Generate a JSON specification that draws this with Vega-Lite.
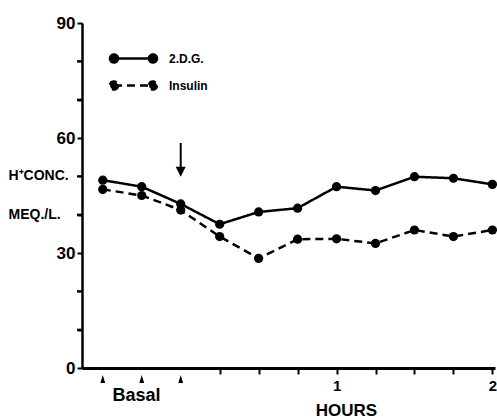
{
  "$schema": "https://vega.github.io/schema/vega-lite/v6.json",
  "width": 413,
  "height": 345,
  "autosize": {"type": "none"},
  "padding": {"left": 82, "top": 23, "right": 2, "bottom": 51},
  "background": "white",
  "config": {
    "view": {"stroke": null},
    "font": "Liberation Sans",
    "axis": {
      "grid": false,
      "domainColor": "black",
      "tickColor": "black",
      "labelColor": "black",
      "titleColor": "black",
      "labelFont": "Liberation Sans",
      "titleFont": "Liberation Sans",
      "labelFontWeight": "bold",
      "titleFontWeight": "bold"
    }
  },
  "datasets": {
    "conc": [
      {"minutes": -30, "series": "2.D.G.", "value": 49.0},
      {"minutes": -15, "series": "2.D.G.", "value": 47.3},
      {"minutes": 0, "series": "2.D.G.", "value": 42.8},
      {"minutes": 15, "series": "2.D.G.", "value": 37.5},
      {"minutes": 30, "series": "2.D.G.", "value": 40.7},
      {"minutes": 45, "series": "2.D.G.", "value": 41.7},
      {"minutes": 60, "series": "2.D.G.", "value": 47.3},
      {"minutes": 75, "series": "2.D.G.", "value": 46.3},
      {"minutes": 90, "series": "2.D.G.", "value": 49.9},
      {"minutes": 105, "series": "2.D.G.", "value": 49.5},
      {"minutes": 120, "series": "2.D.G.", "value": 47.9},
      {"minutes": -30, "series": "Insulin", "value": 46.6},
      {"minutes": -15, "series": "Insulin", "value": 45.0},
      {"minutes": 0, "series": "Insulin", "value": 41.2},
      {"minutes": 15, "series": "Insulin", "value": 34.3},
      {"minutes": 30, "series": "Insulin", "value": 28.6},
      {"minutes": 45, "series": "Insulin", "value": 33.6},
      {"minutes": 60, "series": "Insulin", "value": 33.7},
      {"minutes": 75, "series": "Insulin", "value": 32.5},
      {"minutes": 90, "series": "Insulin", "value": 36.0},
      {"minutes": 105, "series": "Insulin", "value": 34.3},
      {"minutes": 120, "series": "Insulin", "value": 36.0}
    ],
    "basal": [
      {"minutes": -30, "value": 0},
      {"minutes": -15, "value": 0},
      {"minutes": 0, "value": 0}
    ],
    "minorTicks": [
      {"minutes": -38, "value": 10},
      {"minutes": -38, "value": 20},
      {"minutes": -38, "value": 40},
      {"minutes": -38, "value": 50},
      {"minutes": -38, "value": 70},
      {"minutes": -38, "value": 80}
    ],
    "basalLabel": [{"minutes": -17, "value": 0, "label": "Basal"}],
    "injection": [{"minutes": 0, "value": 58.7, "value2": 52.0, "tip": 51.2}]
  },
  "layer": [
    {
      "data": {"name": "conc"},
      "mark": {"type": "line", "color": "black", "strokeWidth": 2.5},
      "encoding": {
        "x": {
          "field": "minutes",
          "type": "quantitative",
          "scale": {"domain": [-38, 121], "nice": false, "zero": false},
          "axis": {
            "values": [15, 30, 45, 60, 75, 90, 105, 120],
            "labelExpr": "datum.value == 60 ? '1' : datum.value == 120 ? '2' : ''",
            "labelFontSize": 15,
            "labelPadding": 4,
            "labelFlush": false,
            "labelOverlap": false,
            "tickSize": 6,
            "tickWidth": 2,
            "domainWidth": 3,
            "title": "HOURS",
            "titleFontSize": 17,
            "titleX": 264,
            "titleY": 47,
            "titleBaseline": "alphabetic",
            "titleAlign": "center",
            "titleAnchor": null
          }
        },
        "y": {
          "field": "value",
          "type": "quantitative",
          "scale": {"domain": [0, 90], "nice": false},
          "axis": {
            "tickCount": 9,
            "labelExpr": "datum.value % 30 === 0 ? format(datum.value, 'd') : ''",
            "labelOverlap": false,
            "labelBound": false,
            "labelFlush": false,
            "labelFontSize": 17,
            "labelPadding": 2,
            "tickSize": 5,
            "tickWidth": 2,
            "domainWidth": 2.5,
            "title": ["H⁺CONC.", "MEQ./L."],
            "titleFontSize": 14,
            "titleAngle": 0,
            "titleAlign": "left",
            "titleBaseline": "middle",
            "titleX": -74,
            "titleY": 152,
            "titleLineHeight": 39,
            "titleAnchor": null
          }
        },
        "strokeDash": {
          "field": "series",
          "type": "nominal",
          "scale": {"domain": ["2.D.G.", "Insulin"], "range": [[1, 0], [8, 5]]},
          "legend": {
            "title": null,
            "orient": "none",
            "legendX": 40,
            "legendY": 24,
            "padding": 0,
            "symbolType": "M-1.95,0L1.95,0M-1.55,0A0.4,0.4,0,1,1,-2.35,0A0.4,0.4,0,1,1,-1.55,0ZM2.35,0A0.4,0.4,0,1,1,1.55,0A0.4,0.4,0,1,1,2.35,0Z",
            "symbolSize": 400,
            "symbolFillColor": "black",
            "symbolStrokeColor": "black",
            "symbolStrokeWidth": 2.5,
            "labelFont": "Liberation Sans",
            "labelFontWeight": "bold",
            "labelFontSize": 12,
            "labelColor": "black",
            "labelOffset": 24,
            "rowPadding": 6,
            "encode": {"symbols": {"update": {"fill": {"value": "black"}, "stroke": {"value": "black"}, "opacity": {"value": 1}}}}
          }
        }
      }
    },
    {
      "data": {"name": "conc"},
      "mark": {"type": "point", "filled": true, "color": "black", "opacity": 1, "size": 85},
      "encoding": {
        "x": {"field": "minutes", "type": "quantitative"},
        "y": {"field": "value", "type": "quantitative"}
      }
    },
    {
      "data": {"name": "minorTicks"},
      "mark": {"type": "point", "shape": "M-1,0L0,0", "filled": false, "stroke": "black", "strokeWidth": 2, "opacity": 1, "size": 100},
      "encoding": {
        "x": {"field": "minutes", "type": "quantitative"},
        "y": {"field": "value", "type": "quantitative"}
      }
    },
    {
      "data": {"name": "basal"},
      "mark": {"type": "point", "shape": "M0,-1L0.6,1L-0.6,1Z", "filled": true, "color": "black", "opacity": 1, "size": 64, "yOffset": 11},
      "encoding": {
        "x": {"field": "minutes", "type": "quantitative"},
        "y": {"field": "value", "type": "quantitative"}
      }
    },
    {
      "data": {"name": "basalLabel"},
      "mark": {"type": "text", "font": "Liberation Sans", "fontWeight": "bold", "fontSize": 18, "color": "black", "baseline": "alphabetic", "align": "center", "dy": 33},
      "encoding": {
        "x": {"field": "minutes", "type": "quantitative"},
        "y": {"field": "value", "type": "quantitative"},
        "text": {"field": "label"}
      }
    },
    {
      "data": {"name": "injection"},
      "mark": {"type": "rule", "color": "black", "strokeWidth": 2},
      "encoding": {
        "x": {"field": "minutes", "type": "quantitative"},
        "y": {"field": "value", "type": "quantitative"},
        "y2": {"field": "value2"}
      }
    },
    {
      "data": {"name": "injection"},
      "mark": {"type": "point", "shape": "M-1,-1L1,-1L0,1Z", "filled": true, "color": "black", "opacity": 1, "size": 100},
      "encoding": {
        "x": {"field": "minutes", "type": "quantitative"},
        "y": {"field": "tip", "type": "quantitative"}
      }
    }
  ]
}
